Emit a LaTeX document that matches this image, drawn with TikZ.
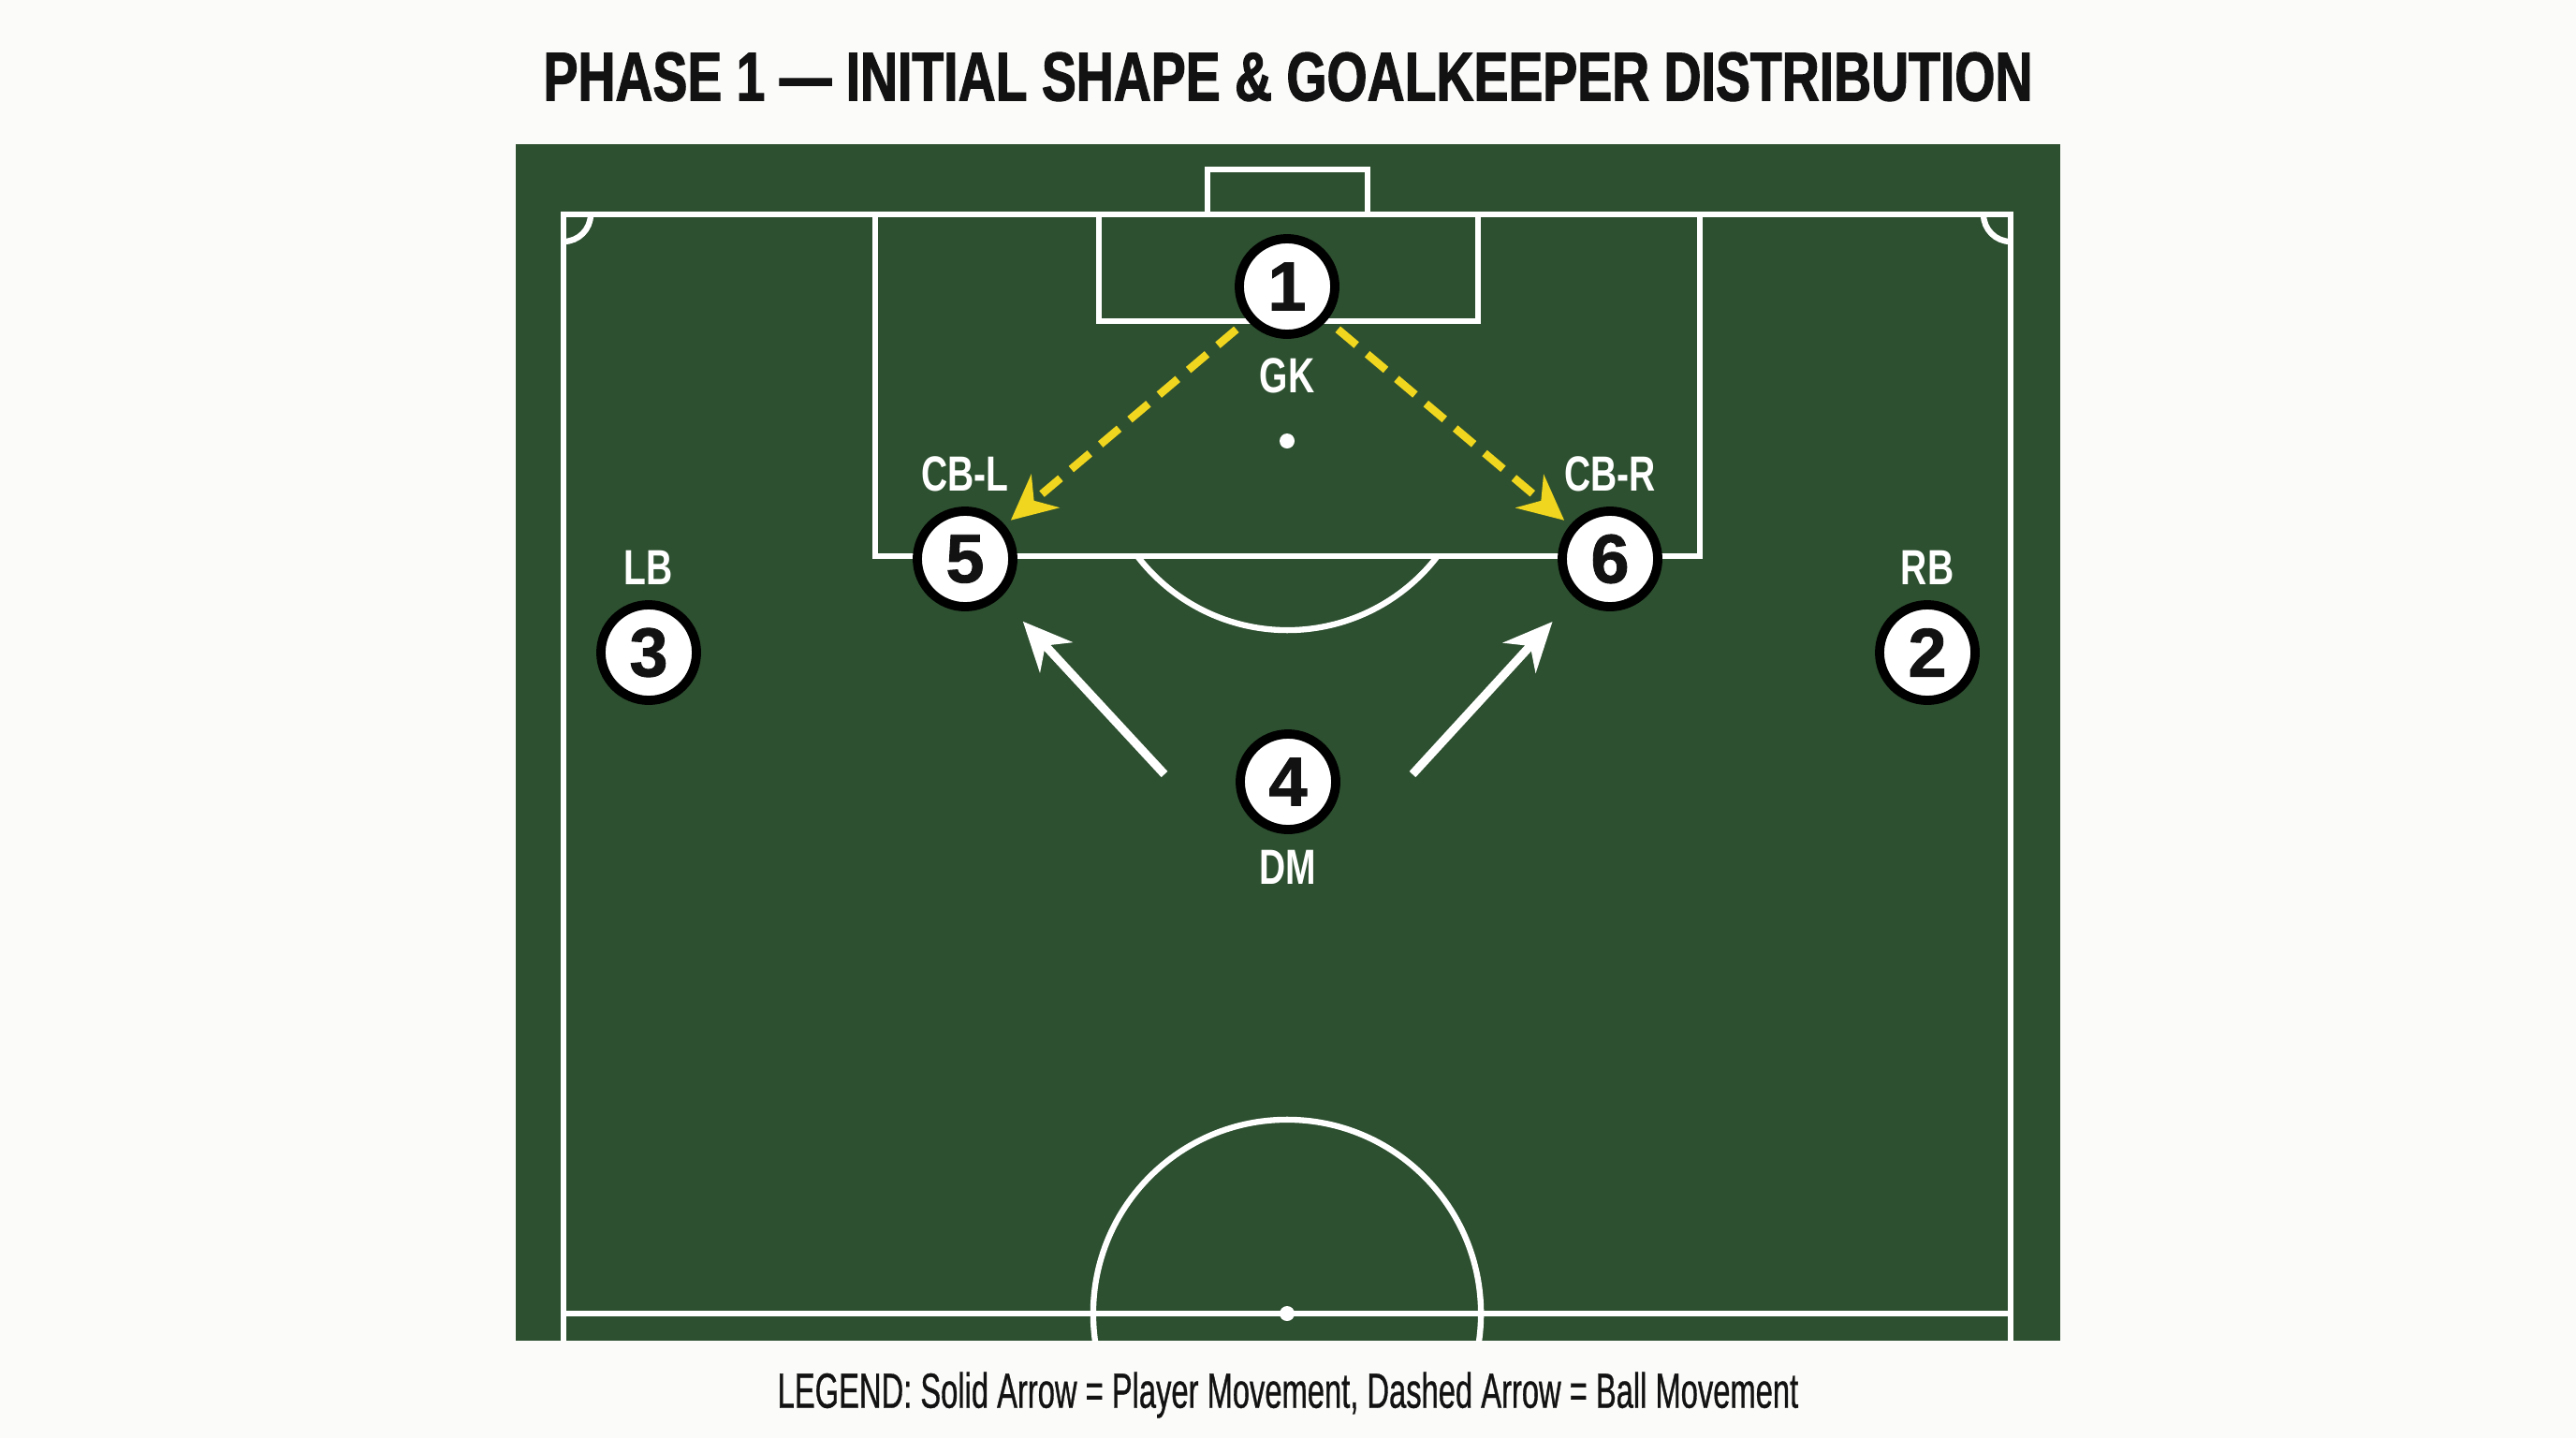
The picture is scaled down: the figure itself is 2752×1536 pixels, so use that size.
\documentclass[tikz,border=0pt]{standalone}
\usepackage{fontspec}
\setmainfont{Liberation Sans}
\newfontfamily\condfont[FakeStretch=0.74]{Liberation Sans}
\newfontfamily\titlefont[FakeStretch=0.75, FakeBold=1.5]{Liberation Sans}
\newfontfamily\numberfont[FakeBold=1.2]{Liberation Sans}
\newfontfamily\legendfont[FakeStretch=0.62, FakeBold=0.6]{Liberation Sans}
\usepackage{xcolor}
\usetikzlibrary{arrows.meta, positioning}
\definecolor{pitch}{RGB}{45,80,48}
\definecolor{ballyellow}{RGB}{240,214,30}
\definecolor{paper}{RGB}{251,251,249}
\definecolor{ink}{RGB}{18,18,18}
\tikzstyle{player} = [circle, 
minimum size=1.02cm, 
inner sep=0pt, 
draw=black, 
line width=2.8pt, 
fill=white, 
text=ink, 
font=\numberfont\fontsize{21pt}{21pt}\selectfont\bfseries]
\tikzstyle{role} = [inner sep=0pt, 
text=white, 
font=\condfont\fontsize{15pt}{15pt}\selectfont\bfseries]
\tikzstyle{pitchline} = [draw=white, line width=1.8pt]
\tikzstyle{runarrow} = [white, line width=2.6pt, -{Stealth[length=0.52cm,width=0.47cm]}, shorten >=0.35cm]
\tikzstyle{passarrow} = [ballyellow, line width=2.4pt, dash pattern=on 0.26cm off 0.15cm, -{Stealth[length=0.48cm,width=0.46cm]}, shorten <=0.15cm, shorten >=0.08cm]

\begin{document}
\begin{tikzpicture}[x=0.01cm, y=-0.01cm]

  \fill[paper] (0,0) rectangle (2752,1536);
  \useasboundingbox (0,0) rectangle (2752,1536);
  \fill[pitch] (551,154) rectangle (2201,1432);

  % pitch markings
  \draw[pitchline] (602,1432) -- (602,229) -- (2148,229) -- (2148,1432);
  \draw[pitchline] (1290,229) -- (1290,181) -- (1461,181) -- (1461,229);
  \draw[pitchline] (935,229) -- (935,594) -- (1816,594) -- (1816,229);
  \draw[pitchline] (1174,229) -- (1174,343) -- (1579,343) -- (1579,229);
  \draw[pitchline] (1215,594) arc[start angle=217.5, end angle=322.5, radius=2.02cm];
  \fill[white] (1375,471) circle (0.08cm);
  \draw[pitchline] (631,229) arc[start angle=0, end angle=-90, radius=0.29cm];
  \draw[pitchline] (2119,229) arc[start angle=180, end angle=270, radius=0.29cm];
  \draw[pitchline] (602,1403) -- (2148,1403);
  \begin{scope}
    \clip (551,154) rectangle (2201,1432);
    \draw[pitchline] (1375,1403) circle (2.07cm);
  \end{scope}
  \fill[white] (1375,1403) circle (0.08cm);

  \node (title) at (1376,82) [text=ink, font=\titlefont\fontsize{21pt}{21pt}\selectfont\bfseries] {PHASE 1 — INITIAL SHAPE \& GOALKEEPER DISTRIBUTION};

  \node (gk) [player] at (1375,306) {1};
  \node (cbl) [player] at (1031,597) {5};
  \node (cbr) [player] at (1720,597) {6};
  \node (lb) [player] at (693,697) {3};
  \node (rb) [player] at (2059,697) {2};
  \node (dm) [player] at (1376,835) {4};

  \node (gklabel) [role, below=0.2cm of gk] {GK};
  \node (cbllabel) [role, above=0.15cm of cbl] {CB-L};
  \node (cbrlabel) [role, above=0.15cm of cbr] {CB-R};
  \node (lblabel) [role, above=0.16cm of lb] {LB};
  \node (rblabel) [role, above=0.16cm of rb] {RB};
  \node (dmlabel) [role, below=0.17cm of dm] {DM};

  \coordinate (runl) at (1244,827);
  \coordinate (runr) at (1509,827);
  \draw[runarrow] (runl) -- (cbl);
  \draw[runarrow] (runr) -- (cbr);
  \draw[passarrow] (gk) -- (cbl);
  \draw[passarrow] (gk) -- (cbr);

  \node (legend) at (1376,1490) [text=ink, font=\legendfont\fontsize{15pt}{15pt}\selectfont] {LEGEND: Solid Arrow = Player Movement, Dashed Arrow = Ball Movement};

\end{tikzpicture}
\end{document}
